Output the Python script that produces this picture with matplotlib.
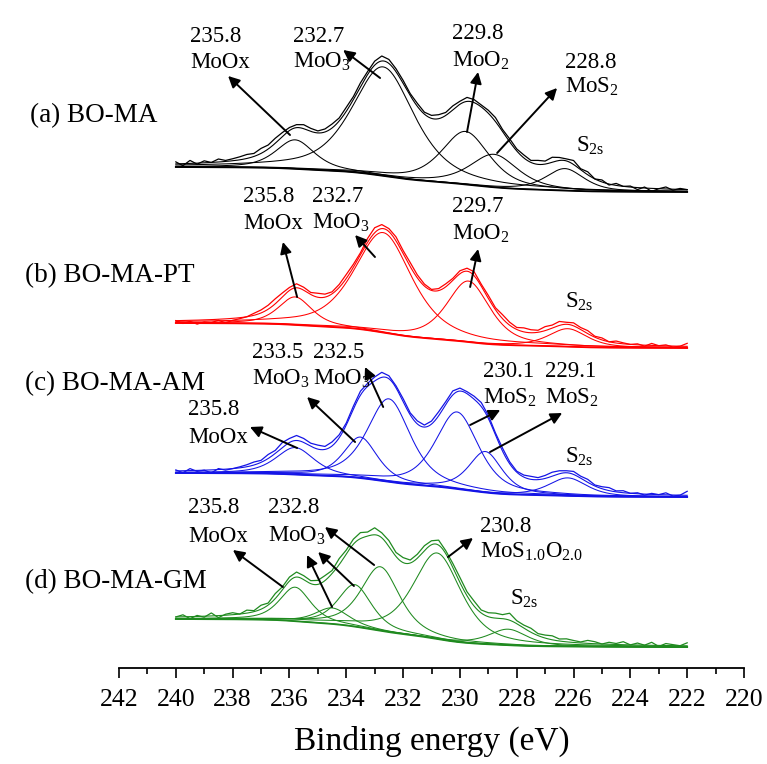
import numpy as np
import matplotlib
matplotlib.use("Agg")
import matplotlib.pyplot as plt
from matplotlib.ticker import MultipleLocator

plt.rcParams['font.family'] = ['Liberation Serif', 'DejaVu Serif']
plt.rcParams['mathtext.fontset'] = 'custom'
plt.rcParams['mathtext.rm'] = 'Liberation Serif'
plt.rcParams['mathtext.it'] = 'Liberation Serif:italic'
plt.rcParams['mathtext.bf'] = 'Liberation Serif:bold'

# ---------------- data ----------------
e_start, e_end = 240.0, 222.0          # recorded binding-energy window (eV)
eta = 0.6                              # Lorentzian fraction of the fitted line shapes

sample_names = ["(a) BO-MA", "(b) BO-MA-PT", "(c) BO-MA-AM", "(d) BO-MA-GM"]
sample_colors = ["#000000", "#ff0000", "#1414e6", "#1f8a1f"]

# fitted components: centre (eV), height, FWHM (eV)
a_centers = [235.8, 232.7, 229.8, 228.8, 226.3]
a_heights = [29, 109, 53, 33, 22]
a_fwhm = [1.6, 2.6, 2.0, 2.0, 1.6]
a_levels = [501, 476]          # background level at 240 eV / 222 eV

b_centers = [235.8, 232.7, 229.7, 226.2]
b_heights = [28, 100, 61, 18]
b_fwhm = [1.4, 2.4, 1.8, 1.6]
b_levels = [345, 320]

c_centers = [235.8, 233.5, 232.5, 230.1, 229.1, 226.2]
c_heights = [27, 41, 83, 77, 41, 18]
c_fwhm = [1.6, 1.4, 1.8, 1.8, 1.4, 1.6]
c_levels = [195, 171]

d_centers = [235.8, 234.5, 233.7, 232.8, 230.8, 228.3]
d_heights = [34, 16, 42, 64, 86, 16]
d_fwhm = [1.3, 1.4, 1.4, 1.6, 2.0, 1.6]
d_levels = [49, 21]

# measured counts minus fit envelope, every 0.25 eV from 240 to 222 eV
a_resid = [2, -2, 3, -1, 2, 0, 3, 1, 2,
           3, 4, 3, 5, 4, 5, 4, 3,
           3, 4, 3, 2, 3, 4, 3, 4,
           3, 4, 3, 4, 5, 4, 3, 3,
           2, 3, 2, 3, 4, 3, 4, 3,
           4, 3, 2, 3, 4, 2, 3, 2,
           3, 2, 4, 3, 5, 3, 2, 4,
           1, 3, 0, 2, -1, 2, 0, 1,
           -2, 1, -3, 0, 2, -1, 1, 0]
b_resid = [0, -3, -1, -4, -2, -3, -1, -4, -2,
           -1, 0, 2, 3, 4, 5, 4, 3,
           4, 3, 2, 4, 3, 2, 3, 4,
           3, 2, 4, 5, 4, 3, 4, 3,
           4, 3, 2, 1, 2, 3, 2, 3,
           3, 4, 2, 3, 2, 4, 3, 2,
           4, 3, 2, 4, 3, 4, 2, 3,
           2, 3, 1, 2, 0, 2, 1, 0,
           1, -1, 2, 0, 1, -1, 0, 3]
c_resid = [1, -2, 2, -1, 0, -3, 1, -1, 0,
           1, 2, 3, 2, 4, 3, 5, 4,
           5, 4, 3, 4, 3, 4, 3, 2,
           3, 4, 3, 4, 5, 3, 2, 3,
           2, 3, 2, 3, 4, 3, 4, 3,
           2, 3, 4, 3, 2, 3, 2, 1,
           2, 3, 2, 3, 4, 3, 2, 3,
           2, 3, 1, 2, 3, 1, 2, 0,
           1, -1, 1, 0, 2, -1, 0, 4]
d_resid = [0, 2, -2, 1, -1, 3, -2, 1, 2,
           0, 3, 1, 4, 2, 5, 3, 4,
           5, 4, 3, 4, 5, 3, 6, 4,
           5, 6, 4, 7, 5, 6, 4, 5,
           3, 4, 5, 4, 5, 3, 4, 5,
           4, 5, 3, 4, 5, 4, 7, 3,
           3, 4, 2, 3, 4, 2, 3, 2,
           1, 3, 2, 0, 2, 1, 3, 0,
           2, 0, 3, -1, 2, 1, 0, 3]

spectra = [
    (a_centers, a_heights, a_fwhm, a_levels, a_resid),
    (b_centers, b_heights, b_fwhm, b_levels, b_resid),
    (c_centers, c_heights, c_fwhm, c_levels, c_resid),
    (d_centers, d_heights, d_fwhm, d_levels, d_resid),
]

# peak labels: (value, species, x_left, y_value_line, y_species_line)
labels = [
    [("235.8", "MoOx", 239.50, 626, 600),
     ("232.7", r"MoO$_\mathregular{3}$", 235.87, 626, 600),
     ("229.8", r"MoO$_\mathregular{2}$", 230.27, 629, 601),
     ("228.8", r"MoS$_\mathregular{2}$", 226.30, 600, 575)],
    [("235.8", "MoOx", 237.63, 466, 439),
     ("232.7", r"MoO$_\mathregular{3}$", 235.20, 466, 439),
     ("229.7", r"MoO$_\mathregular{2}$", 230.27, 456, 428)],
    [("233.5", r"MoO$_\mathregular{3}$", 237.32, 310, 283),
     ("232.5", r"MoO$_\mathregular{3}$", 235.17, 310, 283),
     ("235.8", "MoOx", 239.57, 253, 225),
     ("230.1", r"MoS$_\mathregular{2}$", 229.18, 291, 264),
     ("229.1", r"MoS$_\mathregular{2}$", 227.00, 291, 264)],
    [("235.8", "MoOx", 239.57, 155, 126),
     ("232.8", r"MoO$_\mathregular{3}$", 236.75, 155, 126),
     ("230.8", r"MoS$_\mathregular{1.0}$O$_\mathregular{2.0}$", 229.29, 136, 110)],
]
s2s_pos = [(225.91, 516), (226.30, 360), (226.30, 205), (228.23, 63)]
name_pos = [(245.13, 546), (245.31, 386), (245.31, 278), (245.31, 80)]

# arrows: (tail, head)
arrows = [
    [((235.98, 533), (238.16, 592)), ((232.81, 590), (234.11, 618)),
     ((229.75, 536), (229.36, 596)), ((228.69, 515), (226.58, 580))],
    [((235.73, 371), (236.23, 426)), ((232.99, 411), (233.69, 433)),
     ((229.64, 381), (229.36, 419))],
    [((235.73, 220), (237.39, 241)), ((233.69, 226), (235.38, 271)),
     ((232.70, 261), (233.34, 301)), ((229.64, 243), (228.58, 258)),
     ((228.94, 216), (226.40, 255))],
    [((236.23, 81), (237.99, 118)), ((234.50, 61), (235.38, 113)),
     ((233.73, 82), (234.99, 116)), ((233.02, 103), (234.75, 141)),
     ((230.42, 111), (229.54, 130))],
]


def pseudo_voigt(e, c, h, w):
    u = (e - c) / (w / 2.0)
    return h * (eta / (1.0 + u ** 2) + (1.0 - eta) * np.exp(-np.log(2.0) * u ** 2))


# ---------------- figure ----------------
fig = plt.figure(figsize=(7.67, 7.64), dpi=100)
ax = fig.add_axes([119 / 767, 96 / 764, 625 / 767, 668 / 764])

energy = np.linspace(e_start, e_end, 721)     # 0.025 eV fit grid
step = 10                                     # every 0.25 eV for the raw trace

for (cen, hts, fw, lev, resid), col in zip(spectra, sample_colors):
    comps = [pseudo_voigt(energy, c, h, w) for c, h, w in zip(cen, hts, fw)]
    total = np.sum(comps, axis=0)
    # Shirley-type background between the two end levels
    cum = np.cumsum(total[::-1])[::-1]
    bg = lev[1] + (lev[0] - lev[1]) * cum / cum[0]
    ax.plot(energy, bg, color=col, lw=1.3)
    for comp in comps:
        ax.plot(energy, bg + comp, color=col, lw=0.75)
    env = bg + total
    ax.plot(energy, env, color=col, lw=0.8)
    raw = env[::step] + np.asarray(resid, dtype=float)
    ax.plot(energy[::step], raw, color=col, lw=0.9)

txt_kw = dict(fontsize=16.5, ha='left', va='baseline', color='black')
for lab_set in labels:
    for val, spec, x, yv, ys in lab_set:
        ax.text(x, yv, val, **txt_kw)
        ax.text(x, ys, spec, **txt_kw)
for x, y in s2s_pos:
    ax.text(x, y, r"S$_\mathregular{2s}$", **txt_kw)
for (x, y), name in zip(name_pos, sample_names):
    ax.text(x, y, name, fontsize=19.5, ha='left', va='baseline')

for arr_set in arrows:
    for tail, head in arr_set:
        ax.annotate('', xy=head, xytext=tail,
                    arrowprops=dict(arrowstyle='-|>', color='black', lw=1.4,
                                    mutation_scale=17, shrinkA=0, shrinkB=0))

ax.set_xlim(242, 220)
ax.set_ylim(0, 668)
for side in ('left', 'right', 'top'):
    ax.spines[side].set_visible(False)
ax.spines['bottom'].set_linewidth(1.3)
ax.set_yticks([])
ax.xaxis.set_major_locator(MultipleLocator(2))
ax.xaxis.set_minor_locator(MultipleLocator(1))
ax.tick_params(axis='x', which='major', direction='out', length=7, width=1.2,
               labelsize=18.5, pad=8)
ax.tick_params(axis='x', which='minor', direction='out', length=4, width=1.2)
ax.set_xlabel("Binding energy (eV)", fontsize=24, labelpad=11)

fig.savefig("out.png", dpi=100)
